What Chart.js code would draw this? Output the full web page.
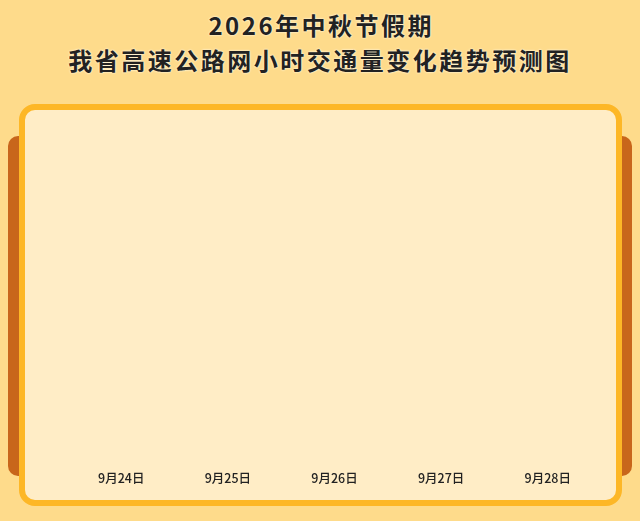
<!DOCTYPE html>
<html lang="zh">
<head>
  <meta charset="UTF-8">
  <title>2026年中秋节假期 我省高速公路网小时交通量变化趋势预测图</title>
  <script src="https://cdn.jsdelivr.net/npm/chart.js"></script>
  <style>
    html, body { margin: 0; padding: 0; }
    body { width: 640px; height: 521px; background: #FEDB8B; position: relative; overflow: hidden;
           font-family: "Noto Sans CJK SC", "Noto Sans", sans-serif; }
    .title { position: absolute; left: 0; width: 640px; text-align: center; font-size: 24px; font-weight: bold;
             color: #222; line-height: 35px; letter-spacing: 2.5px; text-indent: 2.5px;
             text-shadow: 0 0 2px #fff6dc, 0 0 2px #fff6dc; }
    .tab { position: absolute; top: 136px; height: 340px; width: 24px; background: #C8661B; border-radius: 10px; }
    .frame { position: absolute; left: 19px; top: 104px; width: 591px; height: 390px;
             border: 6px solid #FDB726; border-radius: 16px; background: #FFEDC6; }
    .frame canvas { position: absolute; left: 0; top: 0; }
  </style>
</head>
<body>
  <div class="title" style="top: 7px;">2026年中秋节假期<br>我省高速公路网小时交通量变化趋势预测图</div>
  <div class="tab" style="left: 8px;"></div>
  <div class="tab" style="left: 608px;"></div>
  <div class="frame">
    <canvas id="trend" width="591" height="390"></canvas>
  </div>

  <script>
    // x axis categories (holiday days)
    const days = ['9月24日', '9月25日', '9月26日', '9月27日', '9月28日'];

    const ctx = document.getElementById('trend').getContext('2d');

    new Chart(ctx, {
      type: 'line',
      data: {
        labels: days,
        datasets: []
      },
      options: {
        responsive: false,
        animation: false,
        layout: { padding: { left: 43, right: 15, top: 10, bottom: 14 } },
        plugins: {
          legend: { display: false },
          tooltip: { enabled: false }
        },
        scales: {
          x: {
            offset: true,
            grid: { display: false },
            border: { display: false },
            ticks: {
              color: '#222',
              padding: 0,
              maxRotation: 0,
              font: { size: 12.5, weight: '500', family: '"Noto Sans CJK SC", sans-serif' }
            }
          },
          y: { display: false, min: 0, max: 1 }
        }
      }
    });
  </script>
</body>
</html>
